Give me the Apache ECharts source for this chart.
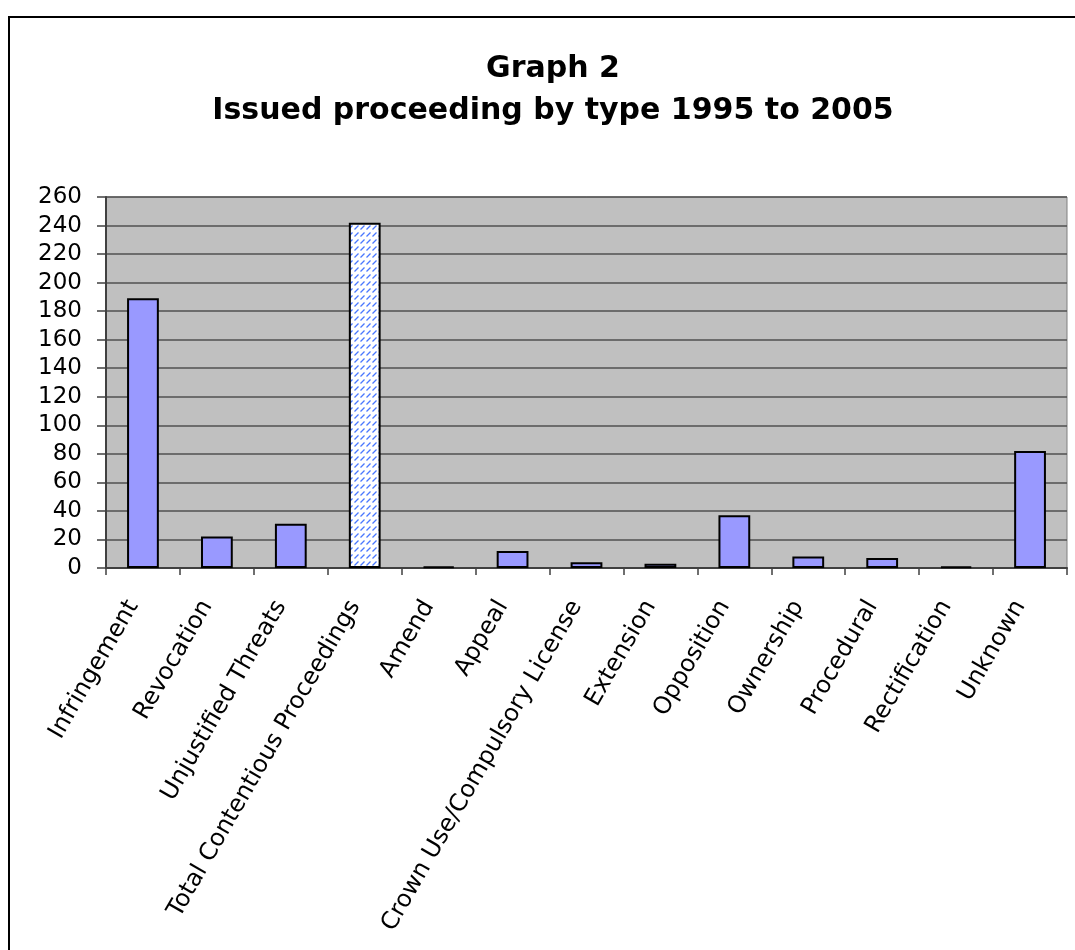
<!DOCTYPE html>
<html>
<head>
<meta charset="utf-8">
<script src="https://cdn.jsdelivr.net/npm/echarts@6/dist/echarts.min.js"></script>
<style>
  html, body { margin: 0; padding: 0; background: #ffffff; }
  #chart { width: 1075px; height: 950px; }
</style>
</head>
<body>
<div id="chart"></div>
<script>
// Proceeding types and issued counts, 1995-2005
const categories = [
  'Infringement', 'Revocation', 'Unjustified Threats', 'Total Contentious Proceedings',
  'Amend', 'Appeal', 'Crown Use/Compulsory License', 'Extension', 'Opposition',
  'Ownership', 'Procedural', 'Rectification', 'Unknown'
];
const counts = [189, 22, 31, 242, 1, 12, 4, 3, 37, 8, 7, 1, 82];
const totalCategory = 'Total Contentious Proceedings';
const titleLines = ['Graph 2', 'Issued proceeding by type 1995 to 2005'];

// Hatched fill for the total bar: short blue diagonal dashes on white
function makeHatch() {
  const c = document.createElement('canvas');
  c.width = 6; c.height = 7;
  const g = c.getContext('2d');
  g.fillStyle = '#ffffff';
  g.fillRect(0, 0, 6, 7);
  g.strokeStyle = '#4a78ff';
  g.lineWidth = 1.3;
  g.beginPath();
  g.moveTo(0.5, 5.5);
  g.lineTo(4.5, 1.5);
  g.stroke();
  return c;
}
const hatch = makeHatch();

const barData = categories.map((name, i) => ({
  value: counts[i],
  itemStyle: name === totalCategory
    ? { color: { image: hatch, repeat: 'repeat' } }
    : { color: '#9999ff' }
}));

const chart = echarts.init(document.getElementById('chart'), null, { renderer: 'canvas' });
const font = '"DejaVu Sans", Verdana, sans-serif';

chart.setOption({
  animation: false,
  backgroundColor: '#ffffff',
  textStyle: { fontFamily: font },
  title: {
    text: titleLines.join('\n'),
    left: 548,
    textAlign: 'center',
    top: 43,
    textStyle: {
      fontFamily: font,
      fontSize: 30,
      fontWeight: 'bold',
      color: '#000000',
      lineHeight: 42
    }
  },
  graphic: [{
    type: 'rect',
    shape: { x: 9, y: 17, width: 1080, height: 950 },
    style: { fill: 'none', stroke: '#000000', lineWidth: 2 },
    silent: true,
    z: 100
  }],
  grid: {
    left: 106,
    right: 8,
    top: 197,
    bottom: 382,
    show: true,
    backgroundColor: '#c0c0c0',
    borderColor: '#808080',
    borderWidth: 1
  },
  xAxis: {
    type: 'category',
    data: categories,
    boundaryGap: true,
    axisLine: { show: true, lineStyle: { color: '#404040', width: 2 } },
    axisTick: { show: true, length: 7, inside: false, lineStyle: { color: '#404040', width: 1.5 } },
    axisLabel: {
      interval: 0,
      rotate: 60,
      margin: 17,
      padding: [0, 20, 0, 0],
      fontFamily: font,
      fontSize: 24,
      color: '#000000'
    },
    splitLine: { show: false }
  },
  yAxis: {
    type: 'value',
    min: 0,
    max: 260,
    interval: 20,
    axisLine: { show: true, lineStyle: { color: '#404040', width: 2 } },
    axisTick: { show: true, length: 9, inside: false, lineStyle: { color: '#404040', width: 1.5 } },
    axisLabel: {
      margin: 24,
      fontFamily: font,
      fontSize: 23,
      color: '#000000'
    },
    splitLine: { show: true, lineStyle: { color: '#505050', width: 1.5 } }
  },
  series: [{
    type: 'bar',
    data: barData,
    barWidth: '43%',
    itemStyle: { borderColor: '#000000', borderWidth: 2 }
  }]
});
</script>
</body>
</html>
